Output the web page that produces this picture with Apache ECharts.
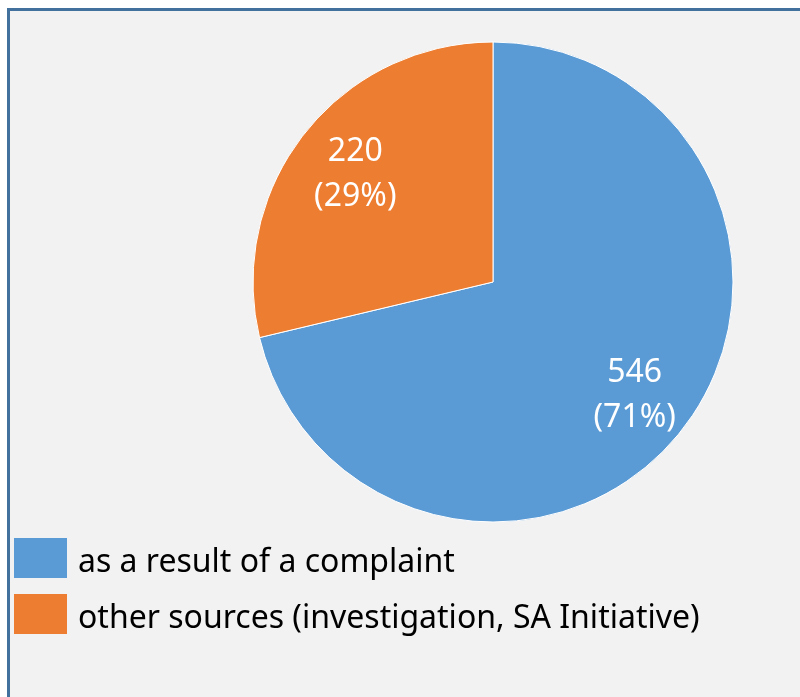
<!DOCTYPE html>
<html>
<head>
<meta charset="utf-8">
<script src="https://cdn.jsdelivr.net/npm/echarts@6/dist/echarts.min.js"></script>
<style>
  html, body { margin: 0; padding: 0; background: #fff; }
  #frame {
    position: absolute; left: 7px; top: 8px; width: 800px; height: 700px;
    background: #f2f2f2; border-top: 3px solid #41719c; border-left: 3px solid #41719c;
  }
  #chart { position: absolute; left: 0; top: 0; width: 800px; height: 697px; }
</style>
</head>
<body>
<div id="frame"></div>
<div id="chart"></div>
<script>
// chart data
var categories = ['as a result of a complaint', 'other sources (investigation, SA Initiative)']
var values = [546, 220]
var colors = ['#5b9bd5', '#ed7d31']

var chart = echarts.init(document.getElementById('chart'))

var pieData = categories.map(function (name, i) {
  return { name: name, value: values[i], itemStyle: { color: colors[i] } }
})

chart.setOption({
  backgroundColor: 'transparent',
  animation: false,
  legend: {
    orient: 'vertical',
    left: 14,
    top: 538,
    padding: 0,
    itemWidth: 53,
    itemHeight: 40,
    itemGap: 15,
    icon: 'rect',
    itemStyle: { borderWidth: 0 },
    data: categories,
    formatter: function (name) { return '{t|' + name + '}' },
    textStyle: {
      fontFamily: 'Noto Sans',
      fontSize: 32,
      color: '#000',
      rich: {
        t: { fontFamily: 'Noto Sans', fontSize: 32, color: '#000', padding: [10, 0, 0, 6] }
      }
    }
  },
  series: [
    {
      name: 'cases',
      type: 'pie',
      center: [493, 282],
      radius: [0, 240],
      startAngle: 90,
      clockwise: true,
      label: { show: false },
      labelLine: { show: false },
      itemStyle: { borderColor: '#fff', borderWidth: 1 },
      data: pieData
    },
    {
      // label carrier: same data, transparent ring so labels sit further out
      name: 'labels',
      type: 'pie',
      silent: true,
      center: [493, 282],
      radius: [110, 240],
      startAngle: 90,
      clockwise: true,
      legendHoverLink: false,
      itemStyle: { color: 'transparent' },
      label: {
        show: true,
        position: 'inside',
        formatter: function (p) { return '{v|' + p.value + '}\n{v|(' + Math.round(p.percent) + '%)}' },
        rich: {
          v: { fontFamily: 'Noto Sans', fontSize: 32, lineHeight: 45, color: '#fff', padding: [6, 0, 0, 4] }
        }
      },
      labelLine: { show: false },
      data: values.map(function (v, i) {
        return { name: categories[i] + ' ', value: v }
      })
    }
  ]
})
</script>
</body>
</html>
